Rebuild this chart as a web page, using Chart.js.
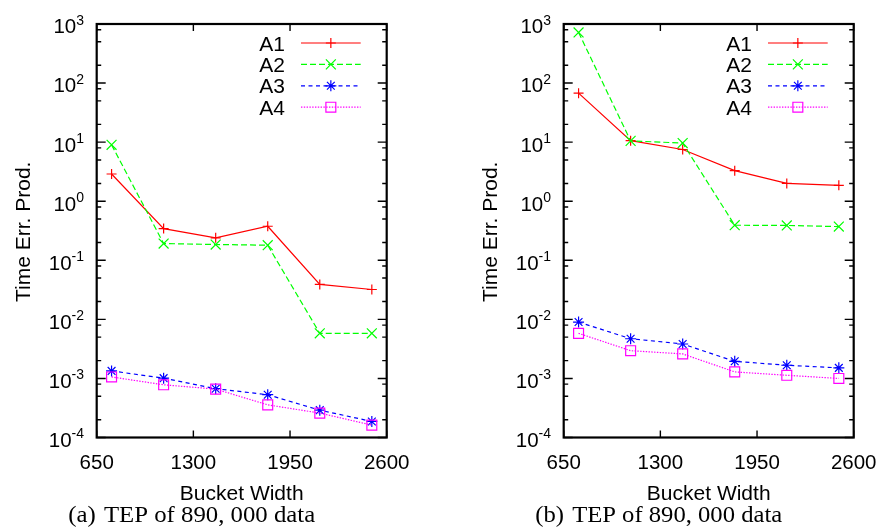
<!DOCTYPE html>
<html>
<head>
<meta charset="utf-8">
<script src="https://cdn.jsdelivr.net/npm/chart.js@4/dist/chart.umd.min.js"></script>
<style>
  html, body { margin: 0; padding: 0; background: #fff; overflow: hidden; }
  #wrap { position: relative; width: 883px; height: 529px; }
  .panel { position: absolute; top: 0; width: 416px; height: 529px; }
</style>
</head>
<body>
<div id="wrap">
  <div class="panel" style="left:0px"><canvas id="chartA" width="416" height="529"></canvas></div>
  <div class="panel" style="left:467px"><canvas id="chartB" width="416" height="529"></canvas></div>
</div>
<script>
// bucket widths (x) shared by both panels
const xValues = [750, 1100, 1450, 1800, 2150, 2500];
const seriesNames = ['A1', 'A2', 'A3', 'A4'];

// panel (a)
const a_A1 = [2.89, 0.344, 0.24, 0.377, 0.039, 0.032];
const a_A2 = [9.0, 0.192, 0.185, 0.18, 0.0058, 0.0058];
const a_A3 = [0.00134, 0.00101, 0.00067, 0.00053, 0.00029, 0.000187];
const a_A4 = [0.00106, 0.00078, 0.00066, 0.000357, 0.000259, 0.000162];

// panel (b)
const b_A1 = [67.5, 10.6, 7.5, 3.29, 2.0, 1.86];
const b_A2 = [720, 10.5, 9.65, 0.392, 0.389, 0.372];
const b_A3 = [0.009, 0.0047, 0.00383, 0.00195, 0.00167, 0.00151];
const b_A4 = [0.0058, 0.00295, 0.0026, 0.00129, 0.00113, 0.001];

const yExponents = [3, 2, 1, 0, -1, -2, -3, -4];
const yMinorSteps = [2, 5, 8];
const xTickValues = [650, 1300, 1950, 2600];
const xAxisTitle = 'Bucket Width';
const yAxisTitle = 'Time Err. Prod.';
const captionA = '(a)\u2004TEP of 890, 000 data';
const captionB = '(b)\u2004TEP of 890, 000 data';

const styles = [
  { color: '#ff0000', dash: [], point: 'cross', r: 5 },
  { color: '#00ff00', dash: [6, 3], point: 'crossRot', r: 7 },
  { color: '#0000ff', dash: [4, 3.5], point: 'star', r: 5.5 },
  { color: '#ff00ff', dash: [1.4, 1.4], point: 'rect', r: 7 }
];

const SANS = '"Liberation Sans", Arial, sans-serif';

function drawMarker(ctx, style, x, y, r) {
  ctx.beginPath();
  if (style === 'cross' || style === 'star') {
    ctx.moveTo(x - r, y); ctx.lineTo(x + r, y);
    ctx.moveTo(x, y - r); ctx.lineTo(x, y + r);
  }
  if (style === 'crossRot' || style === 'star') {
    const d = r * Math.SQRT1_2;
    ctx.moveTo(x - d, y - d); ctx.lineTo(x + d, y + d);
    ctx.moveTo(x - d, y + d); ctx.lineTo(x + d, y - d);
  }
  if (style === 'rect') {
    const s = r * Math.SQRT1_2;
    ctx.rect(x - s, y - s, 2 * s, 2 * s);
  }
  ctx.stroke();
}

const gnuFrame = {
  id: 'gnuFrame',
  beforeDatasetsDraw(chart) {
    const ctx = chart.ctx, a = chart.chartArea;
    const xs = chart.scales.x, ys = chart.scales.y;
    ctx.save();
    ctx.strokeStyle = '#000';
    ctx.lineWidth = 1.4;
    ctx.beginPath();
    yExponents.forEach(e => {
      const py = ys.getPixelForValue(Math.pow(10, e));
      ctx.moveTo(a.left, py); ctx.lineTo(a.left + 9, py);
      ctx.moveTo(a.right, py); ctx.lineTo(a.right - 9, py);
      if (e < 3) {
        yMinorSteps.forEach(m => {
          const pm = ys.getPixelForValue(m * Math.pow(10, e));
          ctx.moveTo(a.left, pm); ctx.lineTo(a.left + 4.5, pm);
          ctx.moveTo(a.right, pm); ctx.lineTo(a.right - 4.5, pm);
        });
      }
    });
    xTickValues.forEach(v => {
      const px = xs.getPixelForValue(v);
      ctx.moveTo(px, a.bottom); ctx.lineTo(px, a.bottom - 7);
      ctx.moveTo(px, a.top); ctx.lineTo(px, a.top + 7);
    });
    ctx.stroke();
    ctx.lineWidth = 2.2;
    ctx.strokeRect(a.left, a.top, a.right - a.left, a.bottom - a.top);
    ctx.restore();
  },
  afterDraw(chart, args, opts) {
    const ctx = chart.ctx, a = chart.chartArea;
    const xs = chart.scales.x, ys = chart.scales.y;
    ctx.save();
    ctx.fillStyle = '#000';

    // y tick labels 10^e
    ctx.textBaseline = 'alphabetic';
    ctx.textAlign = 'right';
    yExponents.forEach(e => {
      const py = ys.getPixelForValue(Math.pow(10, e));
      const xr = a.left - 12.7;
      ctx.font = '14px ' + SANS;
      const sup = String(e);
      const w = ctx.measureText(sup).width;
      ctx.fillText(sup, xr, py + 0.5);
      ctx.font = '20.5px ' + SANS;
      ctx.fillText('10', xr - w, py + 9.4);
    });

    // x tick labels
    ctx.textAlign = 'center';
    ctx.font = '20.5px ' + SANS;
    xTickValues.forEach(v => {
      ctx.fillText(String(v), xs.getPixelForValue(v), a.bottom + 31);
    });

    // axis titles
    ctx.font = '21px ' + SANS;
    ctx.fillText(xAxisTitle, (a.left + a.right) / 2, a.bottom + 62.5);
    ctx.save();
    ctx.translate(30, (a.top + a.bottom) / 2 + 1);
    ctx.rotate(-Math.PI / 2);
    ctx.fillText(yAxisTitle, 0, 0);
    ctx.restore();

    // legend, top right inside the frame
    chart.data.datasets.forEach((ds, i) => {
      const st = styles[i];
      const y = a.top + 19 + i * 21.4;
      ctx.textAlign = 'right';
      ctx.font = '21px ' + SANS;
      ctx.fillStyle = '#000';
      ctx.fillText(ds.label, a.right - 101.7, y + 7.5);
      const x0 = a.right - 85.7, x1 = a.right - 26;
      ctx.strokeStyle = st.color;
      ctx.lineWidth = 1.2;
      ctx.setLineDash(st.dash);
      ctx.beginPath(); ctx.moveTo(x0, y); ctx.lineTo(x1, y); ctx.stroke();
      ctx.setLineDash([]);
      drawMarker(ctx, st.point, (x0 + x1) / 2, y, st.r);
    });

    // caption under the panel
    ctx.font = '23px "Liberation Serif", "Times New Roman", serif';
    ctx.textAlign = 'left';
    const cw = ctx.measureText(opts.caption).width;
    const target = 247;
    ctx.translate(191.7 - target / 2, 521.7);
    ctx.scale(target / cw, 1);
    ctx.fillStyle = '#000';
    ctx.fillText(opts.caption, 0, 0);
    ctx.restore();
  }
};

function makeChart(id, values, caption) {
  const datasets = values.map((vals, i) => ({
    label: seriesNames[i],
    data: xValues.map((x, k) => ({ x: x, y: vals[k] })),
    borderColor: styles[i].color,
    borderWidth: 1.2,
    borderDash: styles[i].dash,
    pointStyle: styles[i].point,
    pointRadius: styles[i].r,
    pointBorderColor: styles[i].color,
    pointBackgroundColor: 'rgba(0,0,0,0)',
    pointBorderWidth: 1.2,
    fill: false,
    tension: 0,
    order: 3 - i
  }));
  return new Chart(document.getElementById(id).getContext('2d'), {
    type: 'line',
    data: { datasets: datasets },
    options: {
      responsive: false,
      animation: false,
      layout: { padding: { left: 96.7, right: 29.3, top: 24, bottom: 91.5 } },
      plugins: {
        legend: { display: false },
        tooltip: { enabled: false },
        gnuFrame: { caption: caption }
      },
      scales: {
        x: { type: 'linear', min: 650, max: 2600, display: false },
        y: { type: 'logarithmic', min: 1e-4, max: 1e3, display: false }
      }
    },
    plugins: [gnuFrame]
  });
}

makeChart('chartA', [a_A1, a_A2, a_A3, a_A4], captionA);
makeChart('chartB', [b_A1, b_A2, b_A3, b_A4], captionB);
</script>
</body>
</html>
